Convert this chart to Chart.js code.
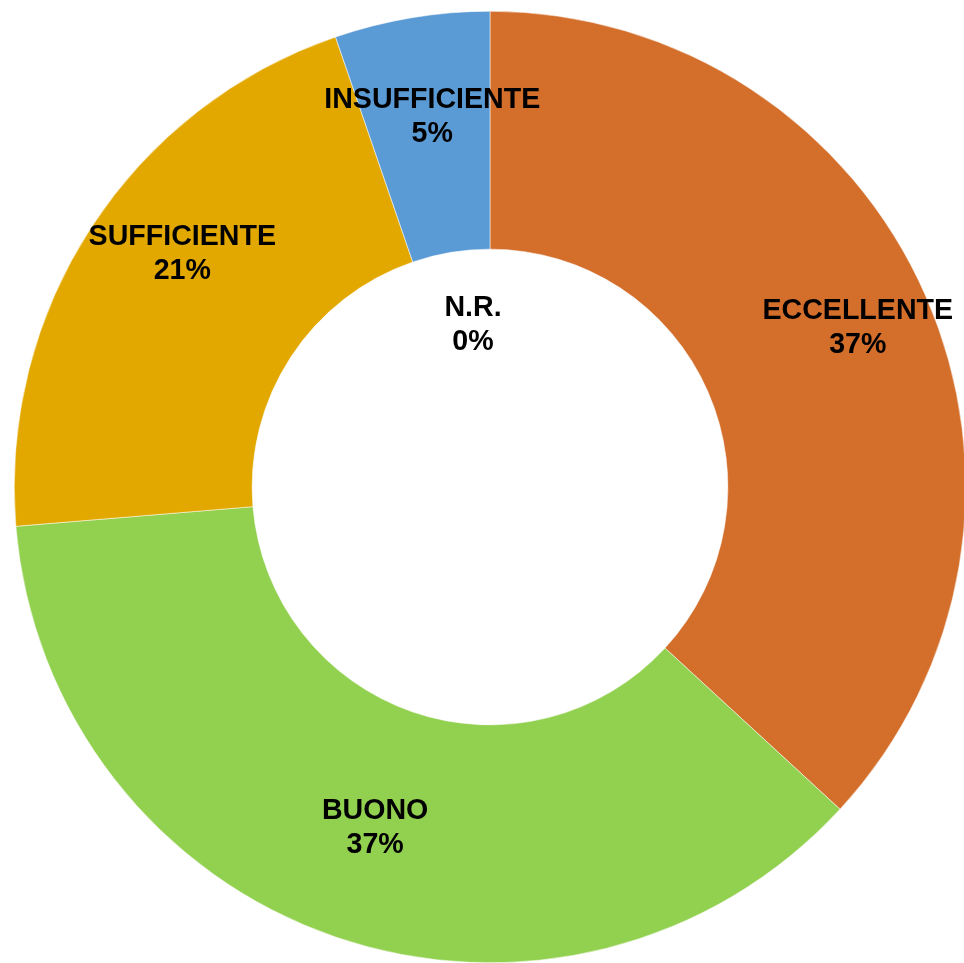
<!DOCTYPE html>
<html>
<head>
<meta charset="utf-8">
<script src="https://cdn.jsdelivr.net/npm/chart.js@4"></script>
<style>
  html, body { margin: 0; padding: 0; background: #fff; overflow: hidden; }
  #wrap { position: absolute; left: 14px; top: 11px; }
</style>
</head>
<body>
<div id="wrap"><canvas id="myChart" width="952" height="952"></canvas></div>
<script>
// data
const categories = ["ECCELLENTE", "BUONO", "SUFFICIENTE", "INSUFFICIENTE", "N.R."];
const counts = [7, 7, 4, 1, 0];
const percentLabels = ["37%", "37%", "21%", "5%", "0%"];
const sliceColors = ["#D36E2B", "#92D050", "#E2A800", "#5B9BD5", "#A5A5A5"];

// label nudges from the ring's middle (px), like excel's best fit
const labelNudge = [[41, -16], [1, 4], [-9, -38], [1, -18], [-17, 195]];

const sliceLabels = {
  id: "sliceLabels",
  afterDatasetsDraw(chart) {
    const ctx = chart.ctx;
    const meta = chart.getDatasetMeta(0);
    ctx.save();
    ctx.font = "bold 28.6px 'Liberation Sans', Arial, sans-serif";
    ctx.fillStyle = "#000";
    ctx.textAlign = "center";
    ctx.textBaseline = "middle";
    meta.data.forEach((arc, i) => {
      let { x, y, startAngle, endAngle, innerRadius, outerRadius } =
        arc.getProps(["x", "y", "startAngle", "endAngle", "innerRadius", "outerRadius"], true);
      let mid = (startAngle + endAngle) / 2;
      let r = (innerRadius + outerRadius) / 2;
      let lx = x + Math.cos(mid) * r + labelNudge[i][0];
      let ly = y + Math.sin(mid) * r + labelNudge[i][1];
      ctx.fillText(categories[i], lx, ly - 17);
      ctx.fillText(percentLabels[i], lx, ly + 17);
    });
    ctx.restore();
  },
};

const ctx = document.getElementById("myChart").getContext("2d");
const myChart = new Chart(ctx, {
  type: "doughnut",
  data: {
    labels: categories,
    datasets: [
      {
        data: counts,
        backgroundColor: sliceColors,
        borderColor: "#ffffff",
        borderWidth: 0.5,
      },
    ],
  },
  options: {
    responsive: false,
    animation: false,
    cutout: "50%",
    layout: { padding: 0 },
    plugins: {
      legend: { display: false },
      tooltip: { enabled: false },
    },
  },
  plugins: [sliceLabels],
});
</script>
</body>
</html>
